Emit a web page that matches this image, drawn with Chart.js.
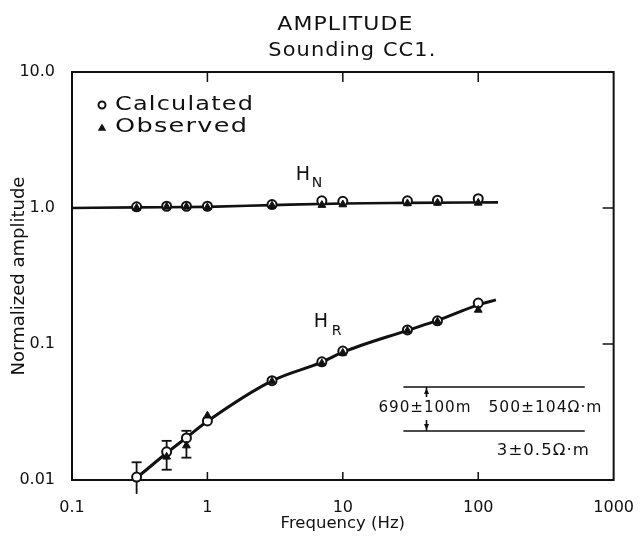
<!DOCTYPE html>
<html>
<head>
<meta charset="utf-8">
<title>Amplitude - Sounding CC1</title>
<script src="https://cdn.jsdelivr.net/npm/chart.js@4.4.0/dist/chart.umd.min.js"></script>
<style>
  html, body { margin: 0; background: #fff; }
</style>
</head>
<body>
<canvas id="ampChart" width="644" height="540"></canvas>
<script>
// frequencies of the soundings (Hz)
const freqs = [0.3, 0.5, 0.7, 1, 3, 7, 10, 30, 50, 100];

// H_N component
const hnCalculated = [1.02, 1.03, 1.03, 1.03, 1.06, 1.13, 1.12, 1.13, 1.14, 1.17];
const hnObserved = [1.0, 1.02, 1.02, 1.01, 1.04, 1.05, 1.06, 1.08, 1.09, 1.09];

// H_R component
const hrCalculated = [0.0105, 0.0161, 0.0204, 0.0272, 0.0537, 0.0739, 0.0888, 0.127, 0.148, 0.2];
const hrObserved = [0.0091, 0.0148, 0.0179, 0.0297, 0.053, 0.072, 0.086, 0.125, 0.146, 0.178];

// error bars on the low-frequency observations
const errFreqs = [0.3, 0.5, 0.7];
const errLow = [0.0079, 0.0119, 0.0146];
const errHigh = [0.0135, 0.0194, 0.023];

// model curves
const hnCurveFreqs = [0.1, 0.3, 1, 3, 10, 30, 140];
const hnCurve = [1.0, 1.01, 1.02, 1.05, 1.08, 1.09, 1.1];
const hrCurveFreqs = [0.28, 0.3, 0.5, 0.7, 1, 3, 7, 10, 30, 50, 100, 135];
const hrCurve = [0.0099, 0.0104, 0.0158, 0.0205, 0.027, 0.0535, 0.0735, 0.087, 0.126, 0.149, 0.194, 0.211];

// axis ticks
const xTicks = [0.1, 1, 10, 100, 1000];
const yTicks = [0.01, 0.1, 1, 10];

// layered model: interface levels, extent and labels
const layerLevels = [0.0483, 0.0229];
const layerFreqRange = [28, 612];
const layerArrowFreq = 41.5;
const layerArrowStops = [0.0408, 0.0276];
const layerLabels = ["690\u00b1100m", "500\u00b1104\u03a9\u00b7m", "3\u00b10.5\u03a9\u00b7m"];
const layerLabelFreqs = [40.1, 311, 300];
const layerLabelLevels = [0.0338, 0.0338, 0.0163];
const layerLabelWidths = [92, 113, 92];

const pts = (xs, ys) => xs.map((x, i) => ({ x: x, y: ys[i] }));
const INK = "#111";

Chart.defaults.font.family = '"DejaVu Sans", sans-serif';
Chart.defaults.color = INK;

// wide drafting lettering: a little tracking, then stretched to the width
function lettering(ctx, text, x, y, width, size, align) {
  ctx.save();
  ctx.font = size + 'px "DejaVu Sans"';
  ctx.letterSpacing = "1px";
  const natural = ctx.measureText(text).width - 1;
  const sx = width / natural;
  const left = align === "center" ? x - width / 2 : x;
  ctx.translate(left, y);
  ctx.scale(sx, 1);
  ctx.textAlign = "left";
  ctx.textBaseline = "middle";
  ctx.fillStyle = INK;
  ctx.fillText(text, 0, 0);
  ctx.restore();
}

function triangle(ctx, x, y, r) {
  ctx.beginPath();
  ctx.moveTo(x, y - r);
  ctx.lineTo(x + r * 0.95, y + r * 0.6);
  ctx.lineTo(x - r * 0.95, y + r * 0.6);
  ctx.closePath();
  ctx.fill();
}

const framePlugin = {
  id: "frame",
  beforeDatasetsDraw(chart) {
    const { ctx, chartArea: a, scales } = chart;
    ctx.save();
    ctx.strokeStyle = INK;
    ctx.lineWidth = 2;
    ctx.strokeRect(a.left, a.top, a.right - a.left, a.bottom - a.top);
    ctx.lineWidth = 1.5;
    ctx.beginPath();
    xTicks.slice(1, -1).forEach((f) => {
      const x = scales.x.getPixelForValue(f);
      ctx.moveTo(x, a.bottom);
      ctx.lineTo(x, a.bottom - 8);
      ctx.moveTo(x, a.top);
      ctx.lineTo(x, a.top + 10);
    });
    yTicks.slice(1, -1).forEach((v) => {
      const y = scales.y.getPixelForValue(v);
      ctx.moveTo(a.right, y);
      ctx.lineTo(a.right - 11, y);
    });
    ctx.stroke();
    ctx.restore();
  },
  afterDraw(chart) {
    const { ctx, chartArea: a, scales } = chart;
    const X = (f) => scales.x.getPixelForValue(f);
    const Y = (v) => scales.y.getPixelForValue(v);
    const cx = (a.left + a.right) / 2;

    // titles
    lettering(ctx, "AMPLITUDE", cx + 2, 25, 135, 20, "center");
    lettering(ctx, "Sounding CC1.", cx + 9, 51, 167, 19, "center");

    // legend
    ctx.save();
    ctx.strokeStyle = INK;
    ctx.fillStyle = INK;
    ctx.lineWidth = 2;
    ctx.beginPath();
    ctx.arc(a.left + 30, a.top + 33, 3.5, 0, Math.PI * 2);
    ctx.stroke();
    triangle(ctx, a.left + 30, a.top + 56, 4.5);
    ctx.restore();
    lettering(ctx, "Calculated", a.left + 43, a.top + 33, 138, 20, "left");
    lettering(ctx, "Observed", a.left + 43, a.top + 55, 132, 20, "left");

    // curve labels
    ctx.save();
    ctx.fillStyle = INK;
    ctx.textBaseline = "middle";
    ctx.font = '19px "DejaVu Sans"';
    ctx.fillText("H", X(4.5), Y(1.75));
    ctx.fillText("H", X(6.1), Y(0.145));
    ctx.font = '14px "DejaVu Sans"';
    ctx.fillText("N", X(4.5) + 16, Y(1.75) + 8);
    ctx.fillText("R", X(6.1) + 18, Y(0.145) + 9);
    ctx.restore();

    // layered model sketch
    ctx.save();
    ctx.strokeStyle = INK;
    ctx.fillStyle = INK;
    ctx.lineWidth = 1.6;
    ctx.beginPath();
    layerLevels.forEach((v) => {
      ctx.moveTo(X(layerFreqRange[0]), Y(v));
      ctx.lineTo(X(layerFreqRange[1]), Y(v));
    });
    const ax = X(layerArrowFreq);
    ctx.moveTo(ax, Y(layerLevels[0]));
    ctx.lineTo(ax, Y(layerArrowStops[0]));
    ctx.moveTo(ax, Y(layerArrowStops[1]));
    ctx.lineTo(ax, Y(layerLevels[1]));
    ctx.stroke();
    const yt = Y(layerLevels[0]);
    const yb = Y(layerLevels[1]);
    ctx.beginPath();
    ctx.moveTo(ax, yt + 1);
    ctx.lineTo(ax - 2.5, yt + 7);
    ctx.lineTo(ax + 2.5, yt + 7);
    ctx.closePath();
    ctx.moveTo(ax, yb - 1);
    ctx.lineTo(ax - 2.5, yb - 7);
    ctx.lineTo(ax + 2.5, yb - 7);
    ctx.closePath();
    ctx.fill();
    ctx.restore();
    layerLabels.forEach((t, i) => {
      lettering(ctx, t, X(layerLabelFreqs[i]), Y(layerLabelLevels[i]), layerLabelWidths[i], 16, "center");
    });
  },
};

const observedStyle = {
  showLine: false,
  pointStyle: "triangle",
  pointRadius: 4.5,
  backgroundColor: INK,
  borderColor: INK,
  borderWidth: 1,
  clip: false,
  order: 0,
};
const calculatedStyle = {
  showLine: false,
  pointStyle: "circle",
  pointRadius: 4.5,
  backgroundColor: "#fff",
  borderColor: INK,
  borderWidth: 2,
  clip: false,
  order: 1,
};
const curveStyle = {
  showLine: true,
  pointRadius: 0,
  borderColor: INK,
  cubicInterpolationMode: "monotone",
  clip: false,
  order: 2,
};

const errorBars = errFreqs.map((f, i) => ({
  label: "error " + f,
  data: [{ x: f, y: errLow[i] }, { x: f, y: errHigh[i] }],
  showLine: true,
  borderColor: INK,
  borderWidth: 1.8,
  pointStyle: "line",
  pointRadius: 5,
  pointBorderWidth: 1.8,
  pointBorderColor: INK,
  clip: false,
  order: 3,
}));

new Chart(document.getElementById("ampChart"), {
  type: "scatter",
  data: {
    datasets: [
      { label: "H_N observed", data: pts(freqs, hnObserved), ...observedStyle },
      { label: "H_R observed", data: pts(freqs, hrObserved), ...observedStyle },
      { label: "H_N calculated", data: pts(freqs, hnCalculated), ...calculatedStyle },
      { label: "H_R calculated", data: pts(freqs, hrCalculated), ...calculatedStyle },
      { label: "H_N model", data: pts(hnCurveFreqs, hnCurve), borderWidth: 2.6, ...curveStyle },
      { label: "H_R model", data: pts(hrCurveFreqs, hrCurve), borderWidth: 3, ...curveStyle },
      ...errorBars,
    ],
  },
  options: {
    responsive: false,
    animation: false,
    layout: { padding: { top: 72, right: 28, bottom: 4, left: 0 } },
    plugins: {
      legend: { display: false },
      title: { display: false },
      tooltip: { enabled: false },
    },
    scales: {
      x: {
        type: "logarithmic",
        min: 0.1,
        max: 1000,
        afterBuildTicks: (s) => { s.ticks = xTicks.map((v) => ({ value: v })); },
        afterFit: (s) => { s.height = 56; },
        grid: { display: false },
        border: { display: false },
        ticks: {
          autoSkip: false,
          maxRotation: 0,
          padding: 10,
          font: { size: 16 },
          callback: (v) => String(v),
        },
        title: {
          display: true,
          text: "Frequency (Hz)",
          font: { size: 16.5 },
          padding: { top: 0, bottom: 2 },
        },
      },
      y: {
        type: "logarithmic",
        min: 0.01,
        max: 10,
        afterBuildTicks: (s) => { s.ticks = yTicks.map((v) => ({ value: v })); },
        afterFit: (s) => { s.width = 72; },
        grid: { display: false },
        border: { display: false },
        ticks: {
          autoSkip: false,
          padding: 9,
          font: { size: 16 },
          callback: (v) => (v >= 1 ? v.toFixed(1) : String(v)),
        },
        title: {
          display: true,
          text: "Normalized amplitude",
          font: { size: 18 },
          padding: { top: 9, bottom: 0 },
        },
      },
    },
  },
  plugins: [framePlugin],
});
</script>
</body>
</html>
